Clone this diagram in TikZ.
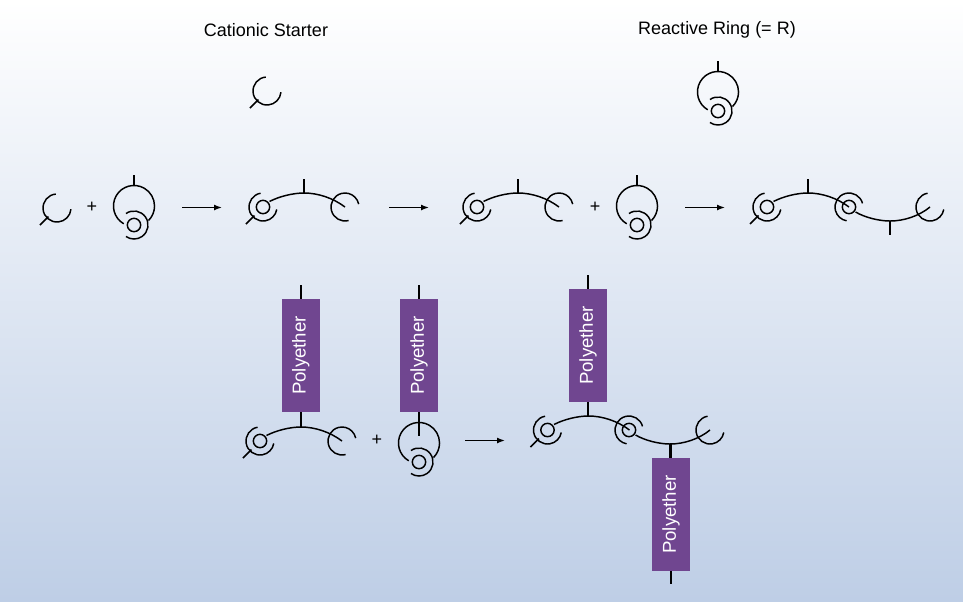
\documentclass[tikz,border=0pt]{standalone}
\usepackage{fontspec}
\setmainfont{Liberation Sans}
\usetikzlibrary{arrows.meta}
\definecolor{skyTop}{RGB}{255,255,255}
\definecolor{skyBottom}{RGB}{190,206,230}
\definecolor{blockPurple}{RGB}{112,70,144}
\tikzset{
  x=0.75pt,y=-0.75pt,
  lineDecorate/.style={-,line width=1.1pt,black},
  stepArrow/.style={-{Latex[length=6pt,width=4.5pt]},line width=1.1pt,black},
  labelDecorate/.style={font=\fontsize{13.5pt}{16pt}\selectfont,text=black,inner sep=0pt},
  plusDecorate/.style={font=\fontsize{13.5pt}{16pt}\selectfont,text=black,inner sep=0pt},
  blockDecorate/.style={fill=blockPurple,text=white,inner sep=0pt,
    minimum width=28.5pt,minimum height=84.5pt},
  blockText/.style={rotate=90,font=\fontsize{14pt}{16pt}\selectfont,text=white,inner sep=0pt},
  % open end with its tail
  pics/starter/.style={code={
    \draw[lineDecorate] (0,0) ++(95:10.5pt) arc[start angle=95,end angle=355,radius=10.5pt];
    \draw[lineDecorate] (-17,17) -- (-8.5,8.5);
  }},
  % closed ring with its stem
  pics/reactive/.style={code={
    \draw[lineDecorate] (0,0) ++(240:15.4pt) arc[start angle=240,end angle=-45,radius=15.4pt];
    \draw[lineDecorate] (0,19) circle[radius=5pt];
    \draw[lineDecorate] (0,19) ++(125:10.5pt) arc[start angle=125,end angle=-125,radius=10.5pt];
    \draw[lineDecorate] (0,-20.5) -- (0,-31);
  }},
  % first unit of a chain
  pics/chainHead/.style={code={
    \draw[lineDecorate] (0,0) circle[radius=5pt];
    \draw[lineDecorate] (0,0) ++(100:10.5pt) arc[start angle=100,end angle=350,radius=10.5pt];
    \draw[lineDecorate] (-17,17) -- (-8.5,8.5);
  }},
  % unit in the middle of a chain
  pics/chainLink/.style={code={
    \draw[lineDecorate] (0,0) circle[radius=5pt];
    \draw[lineDecorate] (0,0) ++(15:10.5pt) arc[start angle=15,end angle=260,radius=10.5pt];
  }},
  % bond arching up, stem on top
  pics/bondUp/.style={code={
    \draw[lineDecorate] (6.5,-5.5) .. controls (16,-10.5) and (30,-14) .. (41,-14)
      .. controls (55,-14) and (70,-9) .. (82,0);
    \draw[lineDecorate] (41,-14) -- (41,-28);
  }},
  % bond sagging down, stem below
  pics/bondDown/.style={code={
    \draw[lineDecorate] (6.5,5) .. controls (16,10.5) and (30,14) .. (41,14)
      .. controls (55,14) and (70,9) .. (81,0);
    \draw[lineDecorate] (41,14) -- (41,28);
  }},
  % open end of a chain, opening to the right
  pics/tailUp/.style={code={
    \draw[lineDecorate] (0,0) ++(-75:10.5pt) arc[start angle=-75,end angle=-348,radius=10.5pt];
  }},
  % open end of a chain, opening to the upper left
  pics/tailDown/.style={code={
    \draw[lineDecorate] (0,0) ++(100:10.5pt) arc[start angle=100,end angle=350,radius=10.5pt];
  }},
}
\begin{document}
\begin{tikzpicture}
\useasboundingbox (0,0) rectangle (963,601);
\shade[top color=skyTop,bottom color=skyBottom,draw=none] (0,0) rectangle (963,601);
%% titles
\node[labelDecorate] (starterTitle) at (266,30) {Cationic Starter};
\node[labelDecorate] (ringTitle) at (717,30) {Reactive Ring (= R)};
%% reagents at the top
\pic at (267,91) {starter};
\pic at (718,92) {reactive};
%% first row
\pic at (57,208) {starter};
\node[plusDecorate] (plusA) at (92,207) {+};
\pic at (134,206) {reactive};
\coordinate (arrowAstart) at (182,207.5);
\coordinate (arrowAend) at (222,207.5);
\draw[stepArrow] (arrowAstart) -- (arrowAend);
\pic at (263,207) {chainHead};
\pic at (263,207) {bondUp};
\pic at (345,207) {tailUp};
\coordinate (arrowBstart) at (389,207.5);
\coordinate (arrowBend) at (429,207.5);
\draw[stepArrow] (arrowBstart) -- (arrowBend);
\pic at (477,207) {chainHead};
\pic at (477,207) {bondUp};
\pic at (559,207) {tailUp};
\node[plusDecorate] (plusB) at (595,207) {+};
\pic at (637,206) {reactive};
\coordinate (arrowCstart) at (685,207.5);
\coordinate (arrowCend) at (725,207.5);
\draw[stepArrow] (arrowCstart) -- (arrowCend);
\pic at (767,207) {chainHead};
\pic at (767,207) {bondUp};
\pic at (849,207) {chainLink};
\pic at (849,207) {bondDown};
\pic at (930,207) {tailDown};
%% second row, blocks
\foreach \blockname/\x/\y in {
  blockA/300.8/355.5, blockB/419/355.5, blockC/588/345.5, blockD/671/514.5}
{
  \node (\blockname) at (\x,\y) [blockDecorate] {};
  \node (\blockname text) at (\x,\y) [blockText] {Polyether};
}
%% free ends of the stems
\foreach \endname/\x/\y in {
  endAtop/300.8/285, endAbot/300.8/427, endBtop/419/285, endBbot/419/436,
  endCtop/588/275, endCbot/588/416, endDtop/671/443, endDbot/671/584}
{
  \coordinate (\endname) at (\x,\y);
}
\foreach \startnode/\endnode in {
  endAtop/blockA, blockA/endAbot, endBtop/blockB, blockB/endBbot,
  endCtop/blockC, blockC/endCbot, endDtop/blockD, blockD/endDbot}
{
  \draw[lineDecorate] (\startnode) -- (\endnode);
}
%% second row, chains
\pic at (260,441) {chainHead};
\pic at (260,441) {bondUp};
\pic at (342,441) {tailUp};
\node[plusDecorate] (plusC) at (377,440) {+};
\pic at (419,443) {reactive};
\coordinate (arrowDstart) at (465,440.5);
\coordinate (arrowDend) at (505,440.5);
\draw[stepArrow] (arrowDstart) -- (arrowDend);
\pic at (547.5,430) {chainHead};
\pic at (547.5,430) {bondUp};
\pic at (629,430) {chainLink};
\pic at (629,430) {bondDown};
\pic at (710,430) {tailDown};
\end{tikzpicture}
\end{document}
